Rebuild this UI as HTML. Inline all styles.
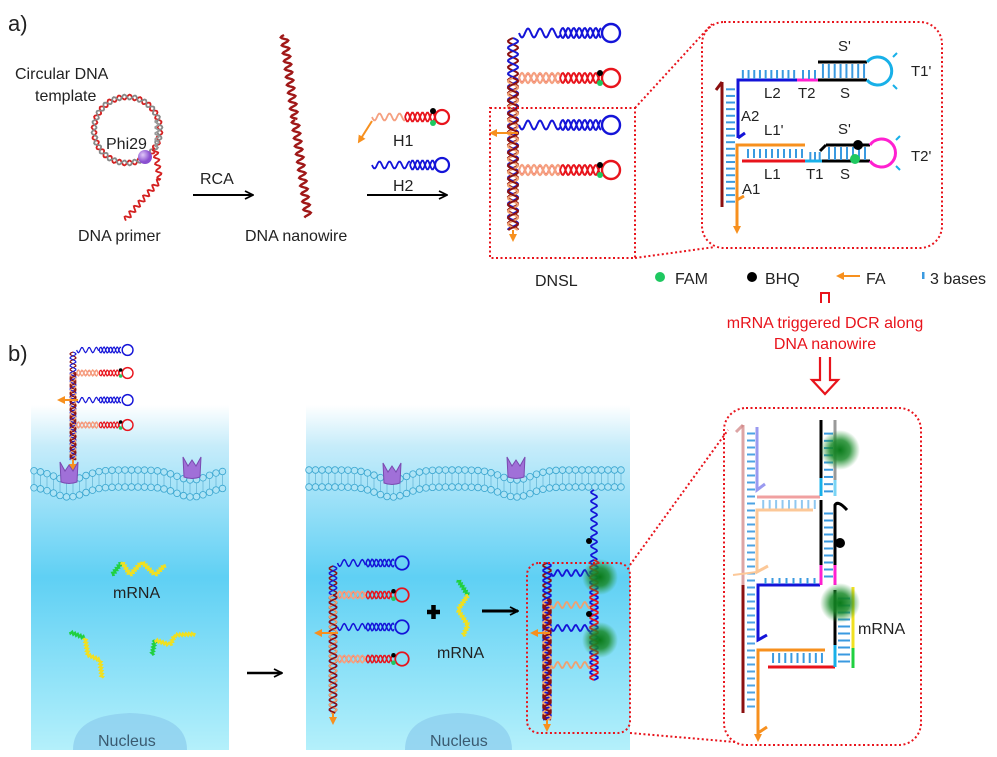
<!DOCTYPE html>
<html><head><meta charset="utf-8">
<style>
html,body{margin:0;padding:0;background:#fff;}
svg{display:block;font-family:"Liberation Sans",Arial,sans-serif;}
</style></head>
<body>
<svg id="s" width="997" height="757" viewBox="0 0 997 757" xmlns="http://www.w3.org/2000/svg">
<defs>
<linearGradient id="cell" x1="0" y1="0" x2="0" y2="1">
<stop offset="0" stop-color="#ffffff"/>
<stop offset="0.12" stop-color="#c6ecfa"/>
<stop offset="0.5" stop-color="#5fd0f4"/>
<stop offset="1" stop-color="#b4f0fb"/>
</linearGradient>
<radialGradient id="glow"><stop offset="0" stop-color="#0a7a1a"/><stop offset="0.5" stop-color="#1a8a2a" stop-opacity="0.85"/><stop offset="1" stop-color="#2a9a3a" stop-opacity="0"/></radialGradient>
<radialGradient id="purp" cx="0.35" cy="0.35"><stop offset="0" stop-color="#e0c8f8"/><stop offset="1" stop-color="#8a4fd0"/></radialGradient>
<marker id="ao" markerWidth="8" markerHeight="8" refX="4" refY="4" orient="auto" markerUnits="userSpaceOnUse"><path d="M0,0 L8,4 L0,8 z" fill="#f7901e"/></marker>
<marker id="ak" markerWidth="10" markerHeight="10" refX="9" refY="5" orient="auto" markerUnits="userSpaceOnUse"><path d="M1,1 L9,5 L1,9" fill="none" stroke="#000" stroke-width="1.8"/></marker>
</defs>

<g id="bg">
<rect x="31" y="405" width="198" height="345" fill="url(#cell)"/>
<rect x="306" y="405" width="324" height="345" fill="url(#cell)"/>
<path d="M73,750 Q73,715 130,713 Q187,715 187,750 z" fill="#8fcfef" opacity="0.8"/>
<path d="M405,750 Q405,715 458,713 Q512,715 512,750 z" fill="#8fcfef" opacity="0.8"/>
</g>
<g id="dyn"></g>

<g fill="#222" font-size="16">
<text x="8" y="31" font-size="22">a)</text>
<text x="8" y="361" font-size="22">b)</text>
<text x="15" y="79">Circular DNA</text>
<text x="35" y="101">template</text>
<text x="106" y="149">Phi29</text>
<text x="78" y="241">DNA primer</text>
<text x="200" y="184">RCA</text>
<text x="245" y="241">DNA nanowire</text>
<text x="393" y="146">H1</text>
<text x="393" y="191">H2</text>
<text x="535" y="286">DNSL</text>
<text x="675" y="284">FAM</text>
<text x="765" y="284">BHQ</text>
<text x="866" y="284">FA</text>
<text x="930" y="284">3 bases</text>
<text x="113" y="598">mRNA</text>
<text x="437" y="658">mRNA</text>
<text x="98" y="746" fill="#3a5a70">Nucleus</text>
<text x="430" y="746" fill="#3a5a70">Nucleus</text>
<text x="858" y="634">mRNA</text>
<g font-size="15">
<text x="764" y="98">L2</text><text x="798" y="98">T2</text><text x="840" y="98">S</text><text x="838" y="51">S'</text><text x="911" y="76">T1'</text>
<text x="741" y="121">A2</text><text x="764" y="135">L1'</text><text x="838" y="134">S'</text>
<text x="764" y="179">L1</text><text x="806" y="179">T1</text><text x="840" y="179">S</text><text x="911" y="161">T2'</text><text x="742" y="194">A1</text>
</g>
</g>
<g fill="#e8141c" font-size="16" text-anchor="middle">
<text x="825" y="328">mRNA triggered DCR along</text>
<text x="825" y="349">DNA nanowire</text>
</g>
<path d="M821,303 V293 H829 V303" fill="none" stroke="#e8141c" stroke-width="2"/>
<path d="M820,357 V380 H812 L825,394 L838,380 H830 V357" fill="#fff" stroke="#e8141c" stroke-width="2.2"/>

<circle cx="660" cy="277" r="5" fill="#1ec860"/>
<circle cx="752" cy="277" r="5" fill="#000"/>
<line x1="860" y1="276" x2="840" y2="276" stroke="#f7901e" stroke-width="2" marker-end="url(#ao)"/>
<rect x="922" y="272" width="2.5" height="7" fill="#3a9ae0"/>

<line x1="193" y1="195" x2="253" y2="195" stroke="#000" stroke-width="2" marker-end="url(#ak)"/>
<line x1="367" y1="195" x2="447" y2="195" stroke="#000" stroke-width="2" marker-end="url(#ak)"/>
<line x1="247" y1="673" x2="282" y2="673" stroke="#000" stroke-width="2.5" marker-end="url(#ak)"/>
<line x1="482" y1="611" x2="518" y2="611" stroke="#000" stroke-width="3" marker-end="url(#ak)"/>
<path d="M427,612 h13 M433.5,605 v14" stroke="#000" stroke-width="4.5"/>

<g fill="none" stroke="#e8141c" stroke-width="2" stroke-dasharray="2,2.5">
<rect x="490" y="108" width="145" height="150"/>
<rect x="702" y="22" width="240" height="226" rx="22"/>
<line x1="635" y1="108" x2="712" y2="24"/>
<line x1="635" y1="258" x2="715" y2="247"/>
<rect x="527" y="563" width="103" height="170" rx="12"/>
<rect x="724" y="408" width="197" height="337" rx="22"/>
<line x1="630" y1="565" x2="728" y2="430"/>
<line x1="630" y1="733" x2="735" y2="742"/>
</g>
</svg>
<script>
var NS="http://www.w3.org/2000/svg",G=document.getElementById('dyn');
function el(t,a,p){var e=document.createElementNS(NS,t);for(var k in a)e.setAttribute(k,a[k]);(p||G).appendChild(e);return e;}
function wave(x1,y1,x2,y2,amp,per,col,w,ph){var dx=x2-x1,dy=y2-y1,L=Math.hypot(dx,dy),ux=dx/L,uy=dy/L,nx=-uy,ny=ux,d="";for(var s=0;s<=L;s+=1){var o=amp*Math.sin(2*Math.PI*s/per+(ph||0));d+=(s?"L":"M")+(x1+ux*s+nx*o).toFixed(1)+","+(y1+uy*s+ny*o).toFixed(1);}el('path',{d:d,fill:'none',stroke:col,'stroke-width':w||1.5});}
function helix(x1,y1,x2,y2,amp,per,c1,c2,w){wave(x1,y1,x2,y2,amp,per,c1,w,0);wave(x1,y1,x2,y2,amp,per,c2,w,Math.PI);}
function line(x1,y1,x2,y2,c,w,extra){var a={x1:x1,y1:y1,x2:x2,y2:y2,stroke:c,'stroke-width':w||2};for(var k in extra)a[k]=extra[k];return el('line',a);}
function circ(cx,cy,r,f,s,w){el('circle',{cx:cx,cy:cy,r:r,fill:f||'none',stroke:s||'none','stroke-width':w||2});}
function hair(x,y,len,col,faint,sc,dots){
 var s=sc||1;
 wave(x,y,x+len*0.5,y,4.5*s,12*s,col,2*s);
 helix(x+len*0.5,y,x+len,y,5*s,11*s,col,col,2*s);
 if(faint){wave(x,y,x+len*0.5,y,5*s,12*s,faint,2*s,Math.PI);helix(x,y,x+len*0.5,y,5*s,12*s,faint,faint,2*s);}
 circ(x+len+10*s,y,9*s,'none',col,2.4*s);
 if(dots){circ(x+len-1,y-5*s,3*s,'#000');circ(x+len-1,y+5*s,3*s,'#1ec860');}
}
function dnsl(x,y0,y1,ys,len,sc,arrowLeftY){
 var s=sc;
 helix(x,y0,x,y1,5*s,13*s,'#8b1010','#1a1ad0',2*s);
 helix(x,ys[1],x,y1,5*s,13*s,'#f0a070','#8b1010',2*s);
 for(var i=0;i<ys.length;i++){var b=i%2==0;hair(x+6*s,ys[i],len,b?'#1414d8':'#e8141c',b?null:'#f5a080',s,!b);}
 line(x,y1,x,y1+8,'#f7901e',2,{'marker-end':'url(#ao)'});
 line(x+5,arrowLeftY,x-20*s,arrowLeftY,'#f7901e',2,{'marker-end':'url(#ao)'});
}
(function(){var cx=127,cy=130,r=33,d1="",d2="";for(var a=0;a<=360;a+=2){var t=a*Math.PI/180,o=2.5*Math.sin(a*Math.PI/9);d1+=(a?"L":"M")+(cx+(r+o)*Math.cos(t)).toFixed(1)+","+(cy+(r+o)*Math.sin(t)).toFixed(1);d2+=(a?"L":"M")+(cx+(r-o)*Math.cos(t)).toFixed(1)+","+(cy+(r-o)*Math.sin(t)).toFixed(1);}
el('path',{d:d1,fill:'none',stroke:'#d42020','stroke-width':1.8});el('path',{d:d2,fill:'none',stroke:'#888','stroke-width':1.8});})();
wave(155,148,160,180,2.5,7,'#d42020',1.8);wave(160,180,125,220,2.5,7,'#d42020',1.8);
wave(157,120,157,148,2,6,'#999',1.8);
circ(145,157,7,'url(#purp)');
wave(284,35,295,120,3.5,8,'#a01818',2.4);wave(295,120,308,218,3.5,8,'#a01818',2.4);
wave(372,117,405,117,3.5,10,'#f5a080',1.8);helix(405,117,435,117,4.5,10,'#e8141c','#e8141c',1.8);circ(442,117,7,'none','#e8141c',2.2);circ(433,111,3,'#000');circ(433,123,3,'#1ec860');
line(372,121,360,140,'#f7901e',2,{'marker-end':'url(#ao)'});
wave(372,165,410,165,3.5,10,'#1414d8',1.8);helix(410,165,435,165,4.5,10,'#1414d8','#1414d8',1.8);circ(442,165,7,'none','#1414d8',2.2);
dnsl(513,38,230,[33,78,125,170],82,1,133);
dnsl(73,352,460,[350,373,400,425],45,0.6,400);
function mrna(pts){for(var i=0;i<pts.length-1;i++){var p=pts[i],q=pts[i+1];wave(p[0],p[1],q[0],q[1],1.2,3,i==0?'#20d040':'#f0e020',2.4);}}
mrna([[112,575],[122,562],[130,575],[142,562],[155,575],[165,565]]);
mrna([[70,632],[85,638],[88,655],[100,660],[102,678]]);
mrna([[152,655],[155,640],[170,645],[175,635],[195,634]]);
mrna([[458,580],[468,595],[458,610],[468,625],[463,636]]);
function membrane(x0,x1,dips){var f=function(x){var y=0;dips.forEach(function(d){var t=(x-d)/22;y+=10*Math.exp(-t*t);});return y;};
 for(var x=x0+3;x<=x1-3;x+=6.5){var y=470+f(x);line(x,y+3,x,y+14,'#6ab8d8',0.8);circ(x,y,3.3,'#aee4f6','#3aa6d0',0.8);circ(x,y+17,3.3,'#aee4f6','#3aa6d0',0.8);}}
membrane(31,229,[69,192]);membrane(306,630,[392,516]);
function receptor(x,y){el('path',{d:'M'+(x-9)+','+(y-13)+' L'+(x-4)+','+(y-4)+' L'+x+','+(y-10)+' L'+(x+4)+','+(y-4)+' L'+(x+9)+','+(y-13)+' L'+(x+8)+','+(y+7)+' Q'+x+','+(y+10)+' '+(x-8)+','+(y+7)+' z',fill:'#a070d8',stroke:'#7a4ab0','stroke-width':1});}
receptor(69,475);receptor(192,470);receptor(392,476);receptor(516,470);
dnsl(333,566,713,[563,595,627,659],57,0.75,633);
wave(594,490,594,560,3,9,'#1414d8',1.8);
helix(594,560,594,680,4,10,'#1414d8','#e8141c',1.8);
helix(547,563,547,720,4,10,'#8b1010','#1414d8',1.8);
helix(547,600,547,720,4,10,'#f0a070','#8b1010',1.8);
wave(551,573,590,573,3,9,'#1414d8',1.8);wave(551,605,590,605,3,9,'#f0a070',1.8);
wave(551,628,590,628,3,9,'#1414d8',1.8);wave(551,665,590,665,3,9,'#f0a070',1.8);
circ(600,577,18,'url(#glow)');circ(600,640,18,'url(#glow)');
circ(589,541,3,'#000');circ(589,614,3,'#000');
line(547,720,547,728,'#f7901e',2,{'marker-end':'url(#ao)'});line(550,633,534,633,'#f7901e',2,{'marker-end':'url(#ao)'});
function ticks(x1,y1,x2,y2,n,len,horiz,col,op){for(var i=0;i<n;i++){var t=(i+0.5)/n,x=x1+(x2-x1)*t,y=y1+(y2-y1)*t;if(horiz)line(x,y,x+len,y,col||'#3a9ae0',2,{opacity:op||1});else line(x,y,x,y+len,col||'#3a9ae0',2,{opacity:op||1});}}
line(722,82,722,207,'#8b1010',3);line(722,82,716,90,'#8b1010',3);
ticks(726,86,726,205,18,9,true);
el('path',{d:'M738,138 V80 H797',fill:'none',stroke:'#1414d8','stroke-width':3});line(738,138,745,133,'#1414d8',3);
ticks(740,70,797,70,10,9,false);
line(797,80,818,80,'#ff20d0',3);ticks(800,70,818,70,3,9,false);
line(818,80,867,80,'#000',3);line(818,62,867,62,'#000',3);ticks(820,64,867,64,8,14,false);
el('path',{d:'M867,62 A14,14 0 1 1 867,80',fill:'none',stroke:'#18b0e8','stroke-width':3});
line(893,57,897,53,'#18b0e8',2);line(893,85,897,89,'#18b0e8',2);
el('path',{d:'M737,227 V145 H805',fill:'none',stroke:'#f7901e','stroke-width':3});line(737,200,744,196,'#f7901e',3);
line(737,222,737,230,'#f7901e',2,{'marker-end':'url(#ao)'});
line(742,161,805,161,'#e8141c',3);ticks(745,149,805,149,10,9,false);
line(805,161,822,161,'#18b0e8',3);ticks(808,152,822,152,3,8,false);
line(822,161,870,161,'#000',3);line(826,145,870,145,'#000',3);line(826,145,820,151,'#000',3);ticks(826,147,868,147,7,13,false);
circ(858,145,5,'#000');circ(855,159,5,'#1ec860');
el('path',{d:'M870,145 A14,14 0 1 1 870,161',fill:'none',stroke:'#ff20d0','stroke-width':3});
line(896,140,900,136,'#18b0e8',2);line(896,166,900,170,'#18b0e8',2);
line(743,425,743,585,'#d08080',3,{opacity:0.7});line(743,425,736,432,'#d08080',3,{opacity:0.7});
line(743,585,743,713,'#8b1010',3);
ticks(747,430,747,710,40,8,true,'#3a9ae0',0.9);
el('path',{d:'M757,427 V490 L765,484',fill:'none',stroke:'#9a9af0','stroke-width':3});
line(757,497,820,497,'#f0a0a0',3);ticks(760,500,818,500,9,9,false,'#90c8f0');
el('path',{d:'M813,510 H757 V572 L768,566',fill:'none',stroke:'#fcc898','stroke-width':3});
line(757,572,733,575,'#fcc898',2);
el('path',{d:'M820,585 H758 V640 L767,635',fill:'none',stroke:'#1414d8','stroke-width':3});ticks(762,578,818,578,8,6,false);
el('path',{d:'M825,650 H758 V733 L767,727',fill:'none',stroke:'#f7901e','stroke-width':3});
line(758,730,758,738,'#f7901e',2,{'marker-end':'url(#ao)'});
line(768,667,835,667,'#e8141c',3);ticks(770,653,825,653,9,10,false);
line(821,420,821,478,'#000',3);line(821,478,821,496,'#18b0e8',3);
line(835,420,835,480,'#999',3);line(835,480,835,496,'#7ad4f4',3);
line(821,500,821,565,'#000',3);line(821,565,821,585,'#ff20d0',3);
el('path',{d:'M835,565 V505 Q838,500 847,510',fill:'none',stroke:'#000','stroke-width':3});
line(835,565,835,585,'#ff20d0',3);line(835,590,835,645,'#000',3);line(835,645,835,667,'#18b0e8',3);
ticks(824,430,824,495,9,9,true);ticks(824,510,824,580,10,9,true);ticks(838,595,838,665,10,12,true);
line(853,587,853,648,'#f0e020',3);line(853,648,853,668,'#20d040',3);
circ(840,450,20,'url(#glow)');circ(840,603,20,'url(#glow)');circ(840,543,5,'#000');
</script>
</body></html>
